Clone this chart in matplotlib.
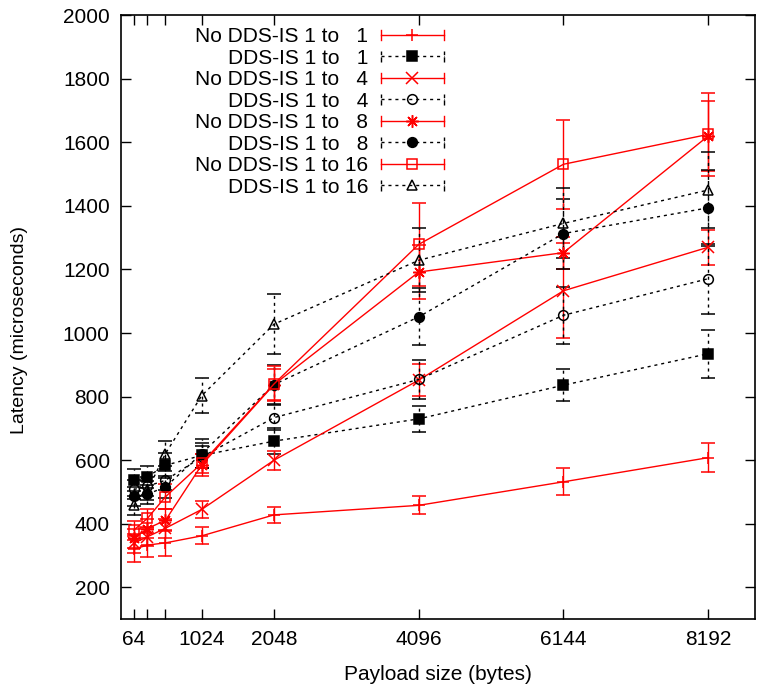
import matplotlib
matplotlib.use("Agg")
from matplotlib import pyplot as plt
from matplotlib.lines import Line2D
from matplotlib.legend_handler import HandlerLine2D

plt.rcParams['font.family'] = ['Liberation Sans', 'DejaVu Sans']

# payload sizes in bytes
payload = [64, 256, 512, 1024, 2048, 4096, 6144, 8192]
xtick_pos = [64, 256, 512, 1024, 2048, 4096, 6144, 8192]
xtick_lbl = ['64', '', '', '1024', '2048', '4096', '6144', '8192']

# mean latency (microseconds) and error
nodds_1 = [320, 333, 340, 362, 428, 458, 532, 608]
nodds_1_err = [40, 38, 40, 27, 25, 28, 42, 45]
dds_1 = [537, 548, 584, 615, 660, 730, 836, 935]
dds_1_err = [35, 35, 40, 40, 40, 40, 50, 75]
nodds_4 = [339, 359, 386, 445, 600, 852, 1133, 1270]
nodds_4_err = [30, 30, 30, 28, 30, 50, 150, 55]
dds_4 = [508, 518, 537, 610, 734, 854, 1056, 1171]
dds_4_err = [30, 30, 30, 35, 40, 60, 90, 110]
nodds_8 = [354, 385, 411, 585, 838, 1192, 1253, 1620]
nodds_8_err = [30, 30, 35, 35, 50, 85, 50, 110]
dds_8 = [487, 493, 516, 621, 838, 1051, 1313, 1394]
dds_8_err = [30, 30, 35, 45, 60, 90, 110, 120]
nodds_16 = [380, 417, 485, 590, 840, 1279, 1531, 1625]
nodds_16_err = [30, 30, 40, 30, 55, 130, 140, 130]
dds_16 = [458, 505, 621, 803, 1028, 1229, 1345, 1450]
dds_16_err = [30, 30, 40, 55, 95, 100, 110, 120]

series = [
    ('No DDS-IS 1 to   1', nodds_1, nodds_1_err, 'red', '+', 'none'),
    ('DDS-IS 1 to   1', dds_1, dds_1_err, 'black', 's', 'black'),
    ('No DDS-IS 1 to   4', nodds_4, nodds_4_err, 'red', 'x', 'none'),
    ('DDS-IS 1 to   4', dds_4, dds_4_err, 'black', 'o', 'none'),
    ('No DDS-IS 1 to   8', nodds_8, nodds_8_err, 'red', (8, 2, 0), 'none'),
    ('DDS-IS 1 to   8', dds_8, dds_8_err, 'black', 'o', 'black'),
    ('No DDS-IS 1 to 16', nodds_16, nodds_16_err, 'red', 's', 'none'),
    ('DDS-IS 1 to 16', dds_16, dds_16_err, 'black', '^', 'none'),
]

DASH = (0, (2.2, 2.8))
FS = 15


class EndTickHandler(HandlerLine2D):
    # line with a marker in the middle and short vertical ticks at both ends
    def create_artists(self, legend, orig_handle, xdescent, ydescent,
                       width, height, fontsize, trans):
        artists = super().create_artists(legend, orig_handle, xdescent, ydescent,
                                         width, height, fontsize, trans)
        y = height / 2 - ydescent
        h = height * 0.35
        for x in (-xdescent, width - xdescent):
            t = Line2D([x, x], [y - h, y + h], color=orig_handle.get_color(),
                       lw=orig_handle.get_linewidth(),
                       linestyle=orig_handle.get_linestyle())
            t.set_transform(trans)
            artists.append(t)
        return artists


fig = plt.figure(figsize=(7.6, 6.91), dpi=100)
ax = fig.add_axes([0.159, 0.104, 0.834, 0.874])

handles = []
for label, vals, err, col, mk, mfc in series:
    dashed = col == 'black'
    ls = DASH if dashed else '-'
    ms = 7 if mk in ('s', 'o', '^') else 9
    eb = ax.errorbar(payload, vals, yerr=err, color=col, ecolor=col, lw=1.0,
                     elinewidth=1.0, capsize=5, capthick=1.0, linestyle=ls,
                     marker=mk, markersize=ms, markerfacecolor=mfc,
                     markeredgecolor=col, markeredgewidth=1.1)
    if dashed:
        eb[2][0].set_linestyle(DASH)
    handles.append(Line2D([], [], color=col, lw=1.0, linestyle=ls, marker=mk,
                          markersize=ms, markerfacecolor=mfc, markeredgecolor=col,
                          markeredgewidth=1.1, label=label))

ax.set_xlim(-120, 8850)
ax.set_ylim(100, 2000)
ax.set_xticks(xtick_pos)
ax.set_xticklabels(xtick_lbl)
ax.set_yticks(range(200, 2001, 200))
ax.tick_params(direction='in', length=7, width=1.0, top=True, right=True,
               labelsize=FS, pad=8)
for s in ax.spines.values():
    s.set_linewidth(1.2)

ax.set_xlabel('Payload size (bytes)', fontsize=FS, labelpad=11)
ax.set_ylabel('Latency (microseconds)', fontsize=14)
ax.yaxis.set_label_coords(-0.146, 0.478)

ax.legend(handles=handles, handler_map={Line2D: EndTickHandler(numpoints=1)},
          loc='upper right', bbox_to_anchor=(0.516, 0.987), frameon=False,
          markerfirst=False, fontsize=FS, handlelength=3.0, handletextpad=0.62,
          labelspacing=0.12, borderpad=0.2, borderaxespad=0)

fig.savefig('out.png', dpi=100)
